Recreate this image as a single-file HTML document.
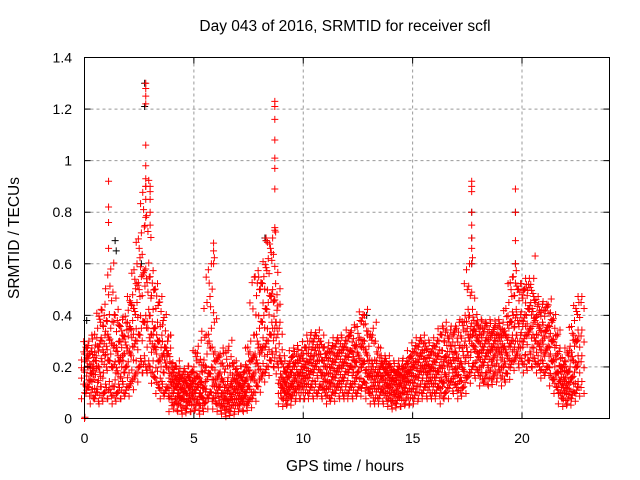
<!DOCTYPE html>
<html><head><meta charset="utf-8"><style>
body{margin:0;background:#fff}
svg{display:block;font-family:"Liberation Sans",sans-serif}
</style></head><body>
<svg id="chart" width="640" height="480" viewBox="0 0 640 480" xmlns="http://www.w3.org/2000/svg">
<rect width="640" height="480" fill="#fff"/>
<g id="grid"></g>
<g id="marks"></g>
<rect x="84.5" y="57.5" width="525" height="361" fill="none" stroke="#000" stroke-width="1"/>
<g id="axes"></g>
<text x="345" y="31" font-size="15.5" text-anchor="middle">Day 043 of 2016, SRMTID for receiver scfl</text>
<text x="345" y="471" font-size="15.5" text-anchor="middle">GPS time / hours</text>
<text transform="translate(19,238) rotate(-90)" font-size="15.5" text-anchor="middle">SRMTID / TECUs</text>
</svg>
<script>
const xTicks=[0,5,10,15,20];
const yTicks=[0,0.2,0.4,0.6,0.8,1,1.2,1.4];
const yTickLabels=["0","0.2","0.4","0.6","0.8","1","1.2","1.4"];
const times=[];for(let i=0;i<114;i++)times.push(+(i*0.2).toFixed(1));
const lo=[.10,.12,.08,.10,.08,.12,.10,.08,.12,.10,.12,.15,.18,.22,.20,.20,.16,.12,.10,.12,.05,.06,.05,.04,.06,.05,.06,.04,.08,.10,.06,.05,.04,.03,.05,.05,.06,.05,.08,.10,.15,.18,.20,.25,.22,.08,.07,.08,.10,.10,.10,.10,.12,.10,.12,.10,.08,.10,.12,.10,.10,.12,.10,.12,.14,.10,.08,.08,.10,.08,.07,.06,.08,.07,.08,.08,.10,.10,.12,.10,.10,.12,.08,.12,.14,.12,.10,.14,.18,.20,.18,.15,.16,.15,.18,.18,.15,.20,.22,.25,.22,.20,.25,.22,.20,.18,.20,.15,.12,.08,.07,.08,.10,.12];
const midA=[.18,.15,.20,.14,.22,.20,.25,.15,.22,.18,.22,.28,.30,.35,.40,.30,.28,.22,.18,.25,.10,.12,.08,.10,.09,.10,.12,.08,.15,.20,.10,.12,.08,.07,.10,.10,.08,.10,.15,.18,.25,.28,.30,.35,.35,.12,.10,.12,.15,.14,.15,.16,.18,.20,.18,.15,.14,.16,.18,.16,.18,.20,.16,.20,.22,.16,.14,.14,.15,.13,.12,.10,.13,.12,.14,.14,.16,.18,.18,.16,.16,.18,.14,.20,.20,.18,.16,.22,.30,.28,.24,.22,.24,.22,.25,.25,.22,.28,.30,.30,.30,.32,.35,.30,.28,.25,.28,.22,.18,.12,.12,.14,.18,.22];
const midB=[.22,.25,.17,.28,.30,.28,.35,.22,.30,.25,.32,.38,.45,.55,.58,.40,.35,.30,.25,.30,.14,.15,.12,.14,.12,.15,.16,.12,.25,.35,.15,.18,.12,.12,.15,.14,.12,.15,.22,.25,.35,.40,.45,.50,.42,.16,.14,.18,.20,.18,.20,.22,.24,.25,.25,.20,.20,.22,.24,.22,.24,.26,.22,.28,.30,.20,.20,.18,.20,.18,.16,.15,.17,.16,.18,.20,.22,.24,.22,.20,.22,.24,.22,.26,.26,.25,.22,.30,.40,.34,.30,.28,.30,.28,.30,.30,.28,.35,.40,.38,.38,.40,.45,.38,.35,.32,.36,.30,.25,.16,.16,.20,.28,.32];
const hi=[.25,.30,.22,.35,.42,.38,.58,.40,.36,.32,.42,.48,.60,.72,.90,.55,.50,.45,.38,.30,.18,.20,.16,.18,.16,.20,.28,.18,.45,.60,.22,.25,.18,.28,.20,.18,.16,.20,.30,.55,.50,.55,.62,.70,.48,.22,.18,.22,.26,.24,.25,.30,.30,.32,.30,.25,.26,.28,.30,.28,.30,.34,.28,.38,.40,.28,.35,.25,.22,.22,.20,.18,.20,.20,.22,.26,.28,.30,.28,.26,.28,.30,.35,.32,.32,.35,.32,.40,.60,.38,.36,.35,.36,.33,.36,.35,.34,.45,.55,.50,.48,.52,.52,.45,.42,.42,.44,.38,.32,.20,.22,.28,.38,.45];
const spikeT=[2.8,2.8,2.8,2.8,2.8,2.8,2.8,2.8,2.8,2.8,3.0,3.0,3.0,3.0,3.0,1.1,1.1,1.1,1.1,5.9,5.9,5.9,8.7,8.7,8.7,8.7,8.7,8.7,8.7,8.7,8.7,8.3,8.3,17.7,17.7,17.7,17.7,17.7,17.7,17.7,17.7,19.7,19.7,19.7,19.7,20.6,0,0.02];
const spikeV=[1.30,1.28,1.25,1.22,1.06,.98,.93,.90,.85,.78,.90,.88,.85,.80,.75,.92,.82,.76,.66,.68,.65,.60,1.23,1.21,1.16,1.08,1.01,.97,.89,.74,.73,.70,.69,.92,.90,.88,.80,.75,.70,.66,.60,.89,.80,.69,.60,.63,0,0.005];
const blackT=[2.75,2.75,2.6,1.4,1.45,8.25,8.3,17.7,17.7,17.7,19.7,19.7,12.9,0.1];
const blackV=[1.30,1.21,.60,.69,.65,.70,.69,.80,.70,.60,.80,.60,.40,.38];

const X0=84.5,X1=609.5,Y0=418.5,Y1=57.5;
const xs=t=>X0+t/24*(X1-X0);
const ys=v=>Y0-v/1.4*(Y0-Y1);
const NS="http://www.w3.org/2000/svg";
const grid=document.getElementById('grid'),axes=document.getElementById('axes'),marks=document.getElementById('marks');
function mk(tag,attrs,parent){const e=document.createElementNS(NS,tag);for(const k in attrs)e.setAttribute(k,attrs[k]);parent.appendChild(e);return e;}
xTicks.forEach(t=>{
  const x=xs(t);
  if(t>0){const g=mk('line',{x1:x,x2:x,y1:Y1,y2:Y0,stroke:'#999','stroke-dasharray':'3,3'},grid);
  
  }
  mk('line',{x1:x,x2:x,y1:Y0,y2:Y0-6,stroke:'#000'},axes);
  mk('line',{x1:x,x2:x,y1:Y1,y2:Y1+6,stroke:'#000'},axes);
  const l=mk('text',{x:x,y:443,'font-size':14,'text-anchor':'middle'},axes);l.textContent=t;
  
  
});
yTicks.forEach((v,i)=>{
  const y=ys(v);
  if(v>0&&v<1.4){const g=mk('line',{x1:X0,x2:X1,y1:y,y2:y,stroke:'#999','stroke-dasharray':'3,3'},grid);
  
  }
  mk('line',{x1:X0,x2:X0+6,y1:y,y2:y,stroke:'#000'},axes);
  mk('line',{x1:X1,x2:X1-6,y1:y,y2:y,stroke:'#000'},axes);
  const l=mk('text',{x:72,y:y+5,'font-size':14,'text-anchor':'end'},axes);l.textContent=yTickLabels[i];
  
  
});
const OFFS=[[0,0],[3,-6],[-3,6]];
function plus(t,v,col,name,dx,dy){
  const x=xs(t)+(dx||0),y=ys(v)+(dy||0);
  if(y>Y0+1)return;
  const p=mk('path',{d:`M${x-3.5} ${y}H${x+3.5}M${x} ${y-3.5}V${y+3.5}`,stroke:col,'stroke-width':1,fill:'none'},marks);
  
  
}
blackT.forEach((t,i)=>plus(t,blackV[i],'#000','point-black'));
[lo,midA,midB,hi].forEach(arr=>times.forEach((t,i)=>{
  const nxt=arr[i+1]!==undefined?arr[i+1]:arr[i];
  OFFS.forEach(o=>{plus(t,arr[i],'#f00','point-red',o[0],o[1]);plus(t+0.1,(arr[i]+nxt)/2,'#f00','point-red',o[0],-o[1]);});
}));
spikeT.forEach((t,i)=>plus(t,spikeV[i],'#f00','point-spike'));
</script>
</body></html>
